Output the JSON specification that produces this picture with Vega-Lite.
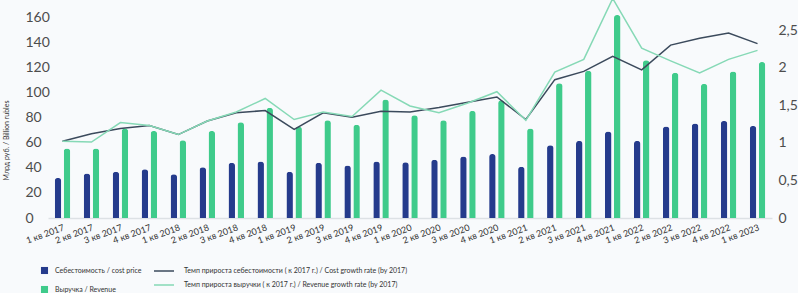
{
  "$schema": "https://vega.github.io/schema/vega-lite/v6.json",
  "width": 724,
  "height": 218,
  "autosize": {"type": "none"},
  "padding": {"left": 48, "top": 0, "right": 26, "bottom": 75},
  "background": "#f8fafc",
  "config": {
    "view": {"stroke": null},
    "font": "Lato",
    "axis": {"labelFont": "Lato", "titleFont": "Lato"},
    "legend": {"labelFont": "Lato", "padding": 0}
  },
  "datasets": {
    "bars": [
      {"quarter": "1 кв 2017", "series": "Себестоимость / cost price", "value": 32},
      {"quarter": "1 кв 2017", "series": "Выручка / Revenue", "value": 55.5},
      {"quarter": "2 кв 2017", "series": "Себестоимость / cost price", "value": 35.5},
      {"quarter": "2 кв 2017", "series": "Выручка / Revenue", "value": 55.5},
      {"quarter": "3 кв 2017", "series": "Себестоимость / cost price", "value": 37},
      {"quarter": "3 кв 2017", "series": "Выручка / Revenue", "value": 71.5},
      {"quarter": "4 кв 2017", "series": "Себестоимость / cost price", "value": 39},
      {"quarter": "4 кв 2017", "series": "Выручка / Revenue", "value": 69.5},
      {"quarter": "1 кв 2018", "series": "Себестоимость / cost price", "value": 35},
      {"quarter": "1 кв 2018", "series": "Выручка / Revenue", "value": 62},
      {"quarter": "2 кв 2018", "series": "Себестоимость / cost price", "value": 40.5},
      {"quarter": "2 кв 2018", "series": "Выручка / Revenue", "value": 69.5},
      {"quarter": "3 кв 2018", "series": "Себестоимость / cost price", "value": 44},
      {"quarter": "3 кв 2018", "series": "Выручка / Revenue", "value": 76.5},
      {"quarter": "4 кв 2018", "series": "Себестоимость / cost price", "value": 45},
      {"quarter": "4 кв 2018", "series": "Выручка / Revenue", "value": 88},
      {"quarter": "1 кв 2019", "series": "Себестоимость / cost price", "value": 37},
      {"quarter": "1 кв 2019", "series": "Выручка / Revenue", "value": 73},
      {"quarter": "2 кв 2019", "series": "Себестоимость / cost price", "value": 44},
      {"quarter": "2 кв 2019", "series": "Выручка / Revenue", "value": 78},
      {"quarter": "3 кв 2019", "series": "Себестоимость / cost price", "value": 42},
      {"quarter": "3 кв 2019", "series": "Выручка / Revenue", "value": 74.5},
      {"quarter": "4 кв 2019", "series": "Себестоимость / cost price", "value": 45},
      {"quarter": "4 кв 2019", "series": "Выручка / Revenue", "value": 94.5},
      {"quarter": "1 кв 2020", "series": "Себестоимость / cost price", "value": 44.5},
      {"quarter": "1 кв 2020", "series": "Выручка / Revenue", "value": 82},
      {"quarter": "2 кв 2020", "series": "Себестоимость / cost price", "value": 46.5},
      {"quarter": "2 кв 2020", "series": "Выручка / Revenue", "value": 78},
      {"quarter": "3 кв 2020", "series": "Себестоимость / cost price", "value": 49},
      {"quarter": "3 кв 2020", "series": "Выручка / Revenue", "value": 85.5},
      {"quarter": "4 кв 2020", "series": "Себестоимость / cost price", "value": 51},
      {"quarter": "4 кв 2020", "series": "Выручка / Revenue", "value": 94},
      {"quarter": "1 кв 2021", "series": "Себестоимость / cost price", "value": 41},
      {"quarter": "1 кв 2021", "series": "Выручка / Revenue", "value": 71.5},
      {"quarter": "2 кв 2021", "series": "Себестоимость / cost price", "value": 58},
      {"quarter": "2 кв 2021", "series": "Выручка / Revenue", "value": 107.5},
      {"quarter": "3 кв 2021", "series": "Себестоимость / cost price", "value": 61.5},
      {"quarter": "3 кв 2021", "series": "Выручка / Revenue", "value": 117.5},
      {"quarter": "4 кв 2021", "series": "Себестоимость / cost price", "value": 69},
      {"quarter": "4 кв 2021", "series": "Выручка / Revenue", "value": 162},
      {"quarter": "1 кв 2022", "series": "Себестоимость / cost price", "value": 61.5},
      {"quarter": "1 кв 2022", "series": "Выручка / Revenue", "value": 126},
      {"quarter": "2 кв 2022", "series": "Себестоимость / cost price", "value": 73},
      {"quarter": "2 кв 2022", "series": "Выручка / Revenue", "value": 116},
      {"quarter": "3 кв 2022", "series": "Себестоимость / cost price", "value": 75.5},
      {"quarter": "3 кв 2022", "series": "Выручка / Revenue", "value": 107},
      {"quarter": "4 кв 2022", "series": "Себестоимость / cost price", "value": 77.5},
      {"quarter": "4 кв 2022", "series": "Выручка / Revenue", "value": 117},
      {"quarter": "1 кв 2023", "series": "Себестоимость / cost price", "value": 73.5},
      {"quarter": "1 кв 2023", "series": "Выручка / Revenue", "value": 124.5}
    ],
    "rates": [
      {"quarter": "1 кв 2017", "line": "Темп прироста себестоимости ( к 2017 г.) / Cost growth rate (by 2017)", "rate": 1.02},
      {"quarter": "2 кв 2017", "line": "Темп прироста себестоимости ( к 2017 г.) / Cost growth rate (by 2017)", "rate": 1.12},
      {"quarter": "3 кв 2017", "line": "Темп прироста себестоимости ( к 2017 г.) / Cost growth rate (by 2017)", "rate": 1.19},
      {"quarter": "4 кв 2017", "line": "Темп прироста себестоимости ( к 2017 г.) / Cost growth rate (by 2017)", "rate": 1.23},
      {"quarter": "1 кв 2018", "line": "Темп прироста себестоимости ( к 2017 г.) / Cost growth rate (by 2017)", "rate": 1.11},
      {"quarter": "2 кв 2018", "line": "Темп прироста себестоимости ( к 2017 г.) / Cost growth rate (by 2017)", "rate": 1.29},
      {"quarter": "3 кв 2018", "line": "Темп прироста себестоимости ( к 2017 г.) / Cost growth rate (by 2017)", "rate": 1.40},
      {"quarter": "4 кв 2018", "line": "Темп прироста себестоимости ( к 2017 г.) / Cost growth rate (by 2017)", "rate": 1.43},
      {"quarter": "1 кв 2019", "line": "Темп прироста себестоимости ( к 2017 г.) / Cost growth rate (by 2017)", "rate": 1.18},
      {"quarter": "2 кв 2019", "line": "Темп прироста себестоимости ( к 2017 г.) / Cost growth rate (by 2017)", "rate": 1.40},
      {"quarter": "3 кв 2019", "line": "Темп прироста себестоимости ( к 2017 г.) / Cost growth rate (by 2017)", "rate": 1.34},
      {"quarter": "4 кв 2019", "line": "Темп прироста себестоимости ( к 2017 г.) / Cost growth rate (by 2017)", "rate": 1.42},
      {"quarter": "1 кв 2020", "line": "Темп прироста себестоимости ( к 2017 г.) / Cost growth rate (by 2017)", "rate": 1.41},
      {"quarter": "2 кв 2020", "line": "Темп прироста себестоимости ( к 2017 г.) / Cost growth rate (by 2017)", "rate": 1.47},
      {"quarter": "3 кв 2020", "line": "Темп прироста себестоимости ( к 2017 г.) / Cost growth rate (by 2017)", "rate": 1.54},
      {"quarter": "4 кв 2020", "line": "Темп прироста себестоимости ( к 2017 г.) / Cost growth rate (by 2017)", "rate": 1.61},
      {"quarter": "1 кв 2021", "line": "Темп прироста себестоимости ( к 2017 г.) / Cost growth rate (by 2017)", "rate": 1.31},
      {"quarter": "2 кв 2021", "line": "Темп прироста себестоимости ( к 2017 г.) / Cost growth rate (by 2017)", "rate": 1.84},
      {"quarter": "3 кв 2021", "line": "Темп прироста себестоимости ( к 2017 г.) / Cost growth rate (by 2017)", "rate": 1.95},
      {"quarter": "4 кв 2021", "line": "Темп прироста себестоимости ( к 2017 г.) / Cost growth rate (by 2017)", "rate": 2.15},
      {"quarter": "1 кв 2022", "line": "Темп прироста себестоимости ( к 2017 г.) / Cost growth rate (by 2017)", "rate": 1.97},
      {"quarter": "2 кв 2022", "line": "Темп прироста себестоимости ( к 2017 г.) / Cost growth rate (by 2017)", "rate": 2.30},
      {"quarter": "3 кв 2022", "line": "Темп прироста себестоимости ( к 2017 г.) / Cost growth rate (by 2017)", "rate": 2.39},
      {"quarter": "4 кв 2022", "line": "Темп прироста себестоимости ( к 2017 г.) / Cost growth rate (by 2017)", "rate": 2.46},
      {"quarter": "1 кв 2023", "line": "Темп прироста себестоимости ( к 2017 г.) / Cost growth rate (by 2017)", "rate": 2.32},
      {"quarter": "1 кв 2017", "line": "Темп прироста выручки ( к 2017 г.) / Revenue growth rate (by 2017)", "rate": 1.02},
      {"quarter": "2 кв 2017", "line": "Темп прироста выручки ( к 2017 г.) / Revenue growth rate (by 2017)", "rate": 1.01},
      {"quarter": "3 кв 2017", "line": "Темп прироста выручки ( к 2017 г.) / Revenue growth rate (by 2017)", "rate": 1.27},
      {"quarter": "4 кв 2017", "line": "Темп прироста выручки ( к 2017 г.) / Revenue growth rate (by 2017)", "rate": 1.23},
      {"quarter": "1 кв 2018", "line": "Темп прироста выручки ( к 2017 г.) / Revenue growth rate (by 2017)", "rate": 1.11},
      {"quarter": "2 кв 2018", "line": "Темп прироста выручки ( к 2017 г.) / Revenue growth rate (by 2017)", "rate": 1.29},
      {"quarter": "3 кв 2018", "line": "Темп прироста выручки ( к 2017 г.) / Revenue growth rate (by 2017)", "rate": 1.41},
      {"quarter": "4 кв 2018", "line": "Темп прироста выручки ( к 2017 г.) / Revenue growth rate (by 2017)", "rate": 1.59},
      {"quarter": "1 кв 2019", "line": "Темп прироста выручки ( к 2017 г.) / Revenue growth rate (by 2017)", "rate": 1.31},
      {"quarter": "2 кв 2019", "line": "Темп прироста выручки ( к 2017 г.) / Revenue growth rate (by 2017)", "rate": 1.41},
      {"quarter": "3 кв 2019", "line": "Темп прироста выручки ( к 2017 г.) / Revenue growth rate (by 2017)", "rate": 1.35},
      {"quarter": "4 кв 2019", "line": "Темп прироста выручки ( к 2017 г.) / Revenue growth rate (by 2017)", "rate": 1.70},
      {"quarter": "1 кв 2020", "line": "Темп прироста выручки ( к 2017 г.) / Revenue growth rate (by 2017)", "rate": 1.49},
      {"quarter": "2 кв 2020", "line": "Темп прироста выручки ( к 2017 г.) / Revenue growth rate (by 2017)", "rate": 1.40},
      {"quarter": "3 кв 2020", "line": "Темп прироста выручки ( к 2017 г.) / Revenue growth rate (by 2017)", "rate": 1.53},
      {"quarter": "4 кв 2020", "line": "Темп прироста выручки ( к 2017 г.) / Revenue growth rate (by 2017)", "rate": 1.68},
      {"quarter": "1 кв 2021", "line": "Темп прироста выручки ( к 2017 г.) / Revenue growth rate (by 2017)", "rate": 1.30},
      {"quarter": "2 кв 2021", "line": "Темп прироста выручки ( к 2017 г.) / Revenue growth rate (by 2017)", "rate": 1.94},
      {"quarter": "3 кв 2021", "line": "Темп прироста выручки ( к 2017 г.) / Revenue growth rate (by 2017)", "rate": 2.11},
      {"quarter": "4 кв 2021", "line": "Темп прироста выручки ( к 2017 г.) / Revenue growth rate (by 2017)", "rate": 2.92},
      {"quarter": "1 кв 2022", "line": "Темп прироста выручки ( к 2017 г.) / Revenue growth rate (by 2017)", "rate": 2.26},
      {"quarter": "2 кв 2022", "line": "Темп прироста выручки ( к 2017 г.) / Revenue growth rate (by 2017)", "rate": 2.09},
      {"quarter": "3 кв 2022", "line": "Темп прироста выручки ( к 2017 г.) / Revenue growth rate (by 2017)", "rate": 1.93},
      {"quarter": "4 кв 2022", "line": "Темп прироста выручки ( к 2017 г.) / Revenue growth rate (by 2017)", "rate": 2.11},
      {"quarter": "1 кв 2023", "line": "Темп прироста выручки ( к 2017 г.) / Revenue growth rate (by 2017)", "rate": 2.23}
    ]
  },
  "layer": [
    {
      "data": {"name": "bars"},
      "mark": {"type": "bar", "cornerRadiusTopLeft": 3, "cornerRadiusTopRight": 3},
      "encoding": {
        "x": {
          "field": "quarter", "type": "nominal", "sort": null,
          "scale": {"paddingInner": 0, "paddingOuter": 0},
          "axis": {"title": null, "labelAngle": -20, "labelAlign": "right", "labelBaseline": "top", "labelFontSize": 9, "labelColor": "#333333", "labelPadding": 5, "ticks": false, "domainColor": "#dde1e5", "domainWidth": 1.5, "grid": false}
        },
        "xOffset": {
          "field": "series", "type": "nominal",
          "scale": {"domain": ["Себестоимость / cost price", "Выручка / Revenue"], "paddingInner": 0.278, "paddingOuter": 0.747}
        },
        "y": {
          "field": "value", "type": "quantitative",
          "scale": {"domain": [0, 174], "nice": false, "zero": true},
          "axis": {"title": "Млрд руб. / Billion rubles", "titleFontSize": 7, "titleFontWeight": "normal", "titleColor": "#333333", "titleX": -42, "titleY": 140, "titleAngle": -90, "titleAlign": "center", "titleBaseline": "middle", "values": [0, 20, 40, 60, 80, 100, 120, 140, 160], "labelAlign": "left", "labelPadding": 23, "labelFontSize": 14, "labelColor": "#4d4d4d", "ticks": false, "domain": false, "grid": false}
        },
        "color": {
          "field": "series", "type": "nominal",
          "scale": {"domain": ["Себестоимость / cost price", "Выручка / Revenue"], "range": ["#253b8c", "#3fcb8b"]},
          "legend": {"orient": "none", "legendX": -8, "legendY": 266, "title": null, "direction": "vertical", "symbolType": "square", "symbolSize": 50, "labelFontSize": 7, "labelColor": "#333333", "rowPadding": 10, "labelOffset": 6}
        }
      }
    },
    {
      "data": {"name": "rates"},
      "mark": {"type": "line", "strokeWidth": 1.5, "clip": false},
      "encoding": {
        "x": {"field": "quarter", "type": "nominal", "sort": null},
        "y": {
          "field": "rate", "type": "quantitative",
          "scale": {"domain": [0, 2.9], "nice": false, "zero": true},
          "axis": {"orient": "right", "title": null, "values": [0, 0.5, 1, 1.5, 2, 2.5], "labelExpr": "replace('' + datum.value, '.', ',')", "labelAlign": "left", "labelPadding": 6, "labelFontSize": 14, "labelColor": "#4d4d4d", "ticks": false, "domain": false, "grid": false}
        },
        "stroke": {
          "field": "line", "type": "nominal",
          "scale": {"domain": ["Темп прироста себестоимости ( к 2017 г.) / Cost growth rate (by 2017)", "Темп прироста выручки ( к 2017 г.) / Revenue growth rate (by 2017)"], "range": ["#3b4a5c", "#86d9b6"]},
          "legend": {"orient": "none", "legendX": 105, "legendY": 260, "title": null, "direction": "vertical", "symbolType": "stroke", "symbolSize": 400, "symbolStrokeWidth": 1.5, "labelFontSize": 7, "labelColor": "#333333", "rowPadding": -3, "labelOffset": 9, "labelLimit": 400}
        }
      }
    }
  ],
  "resolve": {"scale": {"y": "independent"}}
}
